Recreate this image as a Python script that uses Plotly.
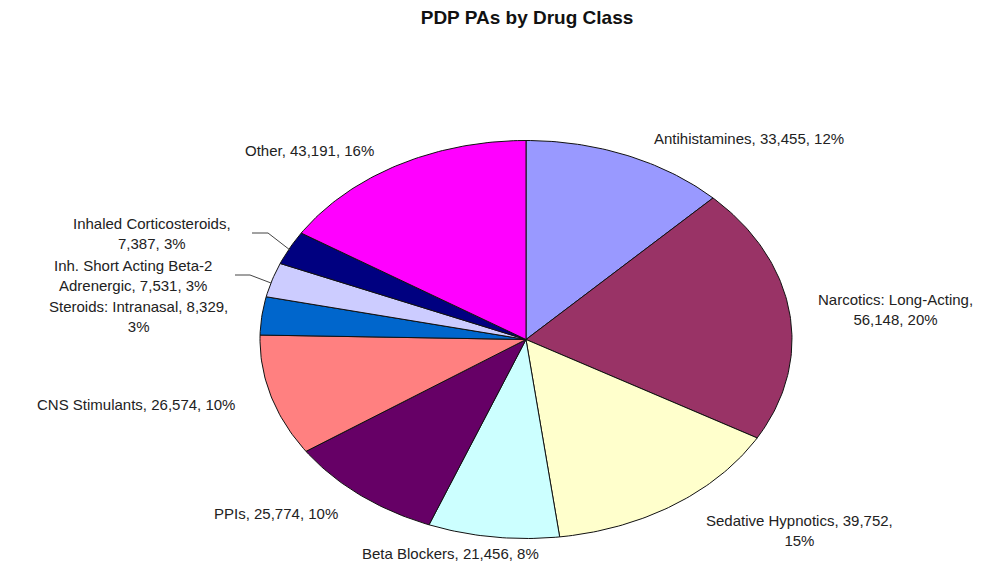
import numpy as np
import plotly.graph_objects as go

# ---- data ----
categories = ["Antihistamines", "Narcotics: Long-Acting", "Sedative Hypnotics", "Beta Blockers",
              "PPIs", "CNS Stimulants", "Steroids: Intranasal",
              "Inh. Short Acting Beta-2 Adrenergic", "Inhaled Corticosteroids", "Other"]
values = [33455, 56148, 39752, 21456, 25774, 26574, 8329, 7531, 7387, 43191]
pct_labels = [12, 20, 15, 8, 10, 10, 3, 3, 3, 16]
colors = ["#9999FF", "#993366", "#FFFFCC", "#CCFFFF", "#660066", "#FF8080",
          "#0066CC", "#CCCCFF", "#000080", "#FF00FF"]

# label layout: line-break rule, pixel centre (x, y) in the page
label_breaks = [None, 1, 2, None, None, None, 2, "Beta-2", 1, None]
label_pos = [(749, 138), (895, 309), (799, 530), (450, 553), (276, 513), (136, 404),
             (138, 316), (133, 275), (152, 233), (309, 150)]

OFF = 8  # page body margin
W, H = 998 - OFF, 563 - OFF
CX, CY, RX, RY = 526 - OFF, 339.5 - OFF, 266, 199

total = sum(values)
fig = go.Figure()
cum = 0.0
for cat, v, c in zip(categories, values, colors):
    a0 = cum / total * 2 * np.pi
    cum += v
    a1 = cum / total * 2 * np.pi
    n = max(8, int((a1 - a0) / (2 * np.pi) * 400))
    t = np.linspace(a0, a1, n)
    xs = np.concatenate([[0], np.sin(t), [0]])
    ys = np.concatenate([[0], np.cos(t), [0]])
    fig.add_trace(go.Scatter(x=xs, y=ys, mode="lines", fill="toself", fillcolor=c,
                             line=dict(color="#111111", width=1), name=cat,
                             hoverinfo="text", text=f"{cat}: {v:,}", showlegend=False))

def make_label(cat, v, p, brk):
    parts = [cat, f"{v:,}", f"{p}%"]
    if brk is None:
        return ", ".join(parts)
    if brk == "Beta-2":
        a, b = cat.split("Beta-2 ")
        return f"{a}Beta-2<br>{b}, {parts[1]}, {parts[2]}"
    return ", ".join(parts[:brk]) + ",<br>" + ", ".join(parts[brk:])

FONT = "Liberation Sans, Arial"
for cat, v, p, brk, (px, py) in zip(categories, values, pct_labels, label_breaks, label_pos):
    fig.add_annotation(text=make_label(cat, v, p, brk), xref="paper", yref="paper",
                       x=(px - OFF) / W, y=1 - (py - OFF) / H,
                       xanchor="center", yanchor="middle",
                       showarrow=False, align="center",
                       font=dict(family=FONT, size=15, color="#222222"))

# leader lines
leaders = [[(252, 233), (268, 233), (290, 250)], [(235, 275), (250, 275), (271, 283)]]
for pts in leaders:
    path = "M " + " L ".join(f"{(p[0] - OFF) / W},{1 - (p[1] - OFF) / H}" for p in pts)
    fig.add_shape(type="path", path=path, xref="paper", yref="paper",
                  line=dict(color="#444444", width=1))

fig.update_layout(
    width=W, height=H, margin=dict(l=0, r=0, t=0, b=0),
    paper_bgcolor="white", plot_bgcolor="white",
    title=dict(text="<b>PDP PAs by Drug Class</b>", x=(527 - OFF) / W, xanchor="center",
               y=1 - (17 - OFF) / H, yanchor="middle",
               font=dict(family=FONT, size=19, color="#111111")),
    xaxis=dict(range=[-CX / RX, (W - CX) / RX], visible=False, fixedrange=True),
    yaxis=dict(range=[(CY - H) / RY, CY / RY], visible=False, fixedrange=True),
)

fig.write_html("out.html")
